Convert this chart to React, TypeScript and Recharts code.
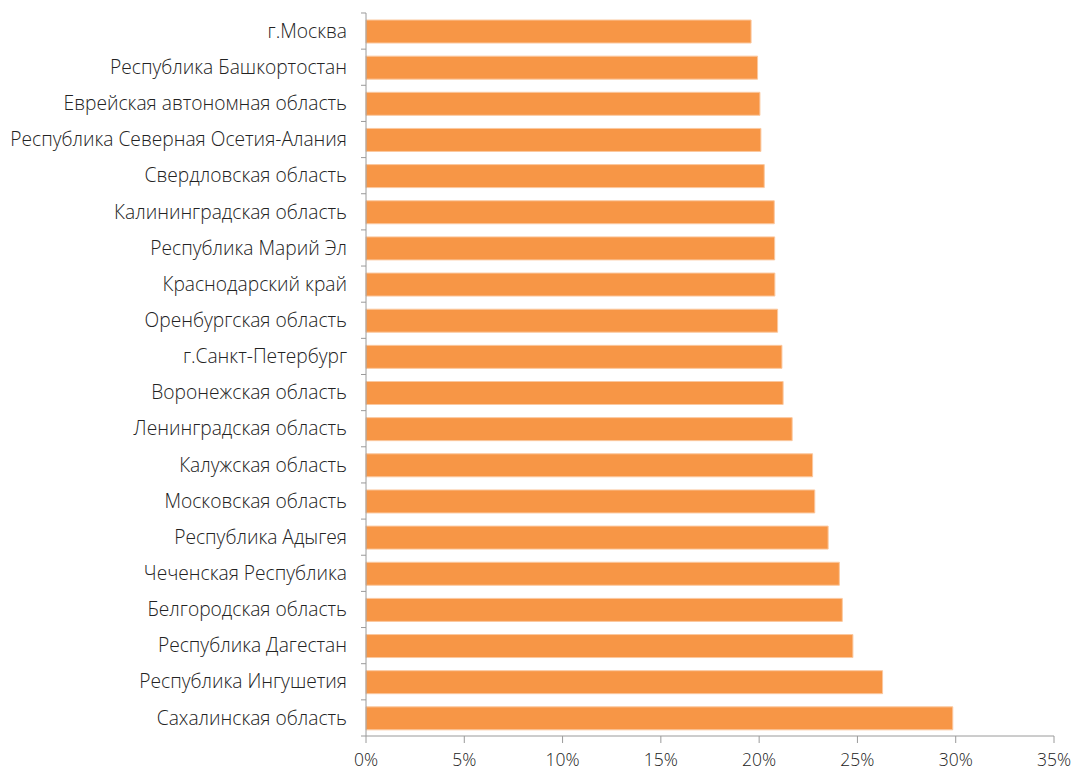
import React from "react";
import { BarChart, Bar, XAxis, YAxis } from "recharts";

const regions = [
  "г.Москва",
  "Республика Башкортостан",
  "Еврейская автономная область",
  "Республика Северная Осетия-Алания",
  "Свердловская область",
  "Калининградская область",
  "Республика Марий Эл",
  "Краснодарский край",
  "Оренбургская область",
  "г.Санкт-Петербург",
  "Воронежская область",
  "Ленинградская область",
  "Калужская область",
  "Московская область",
  "Республика Адыгея",
  "Чеченская Республика",
  "Белгородская область",
  "Республика Дагестан",
  "Республика Ингушетия",
  "Сахалинская область",
];

const shares = [
  19.59, 19.92, 20.04, 20.09, 20.26, 20.77, 20.79, 20.8, 20.94, 21.16,
  21.22, 21.68, 22.72, 22.83, 23.51, 24.08, 24.23, 24.77, 26.28, 29.85,
];

const xTicks = [0, 5, 10, 15, 20, 25, 30, 35];

const data = regions.map((name, i) => ({ name, value: shares[i] }));

const FONT = "'Open Sans', 'Noto Sans', sans-serif";
const AXIS = "#9a9a9a";
const TEXT = "#222";
const HALF_BAND = 18.08;

// category label plus the small tick marks at band boundaries
const RegionTick = (props: any) => {
  const { x, y, payload, index } = props;
  const axisX = x + 8;
  return (
    <g>
      <line x1={axisX - 5} x2={axisX} y1={y - HALF_BAND} y2={y - HALF_BAND} stroke={AXIS} />
      {index === regions.length - 1 && (
        <line x1={axisX - 5} x2={axisX} y1={y + HALF_BAND} y2={y + HALF_BAND} stroke={AXIS} />
      )}
      <text
        x={axisX - 19}
        y={y}
        dy="0.35em"
        textAnchor="end"
        fill={TEXT}
        fontSize={19.2}
        fontWeight={300}
        fontFamily={FONT}
      >
        {payload.value}
      </text>
    </g>
  );
};

export default function App() {
  return (
    <div style={{ position: "absolute", left: 0, top: 0, background: "#fff" }}>
      <BarChart
        width={1073}
        height={772}
        data={data}
        layout="vertical"
        margin={{ top: 13, right: 19, bottom: 6, left: 0 }}
        barSize={23}
      >
        <XAxis
          type="number"
          domain={[0, 35]}
          ticks={xTicks}
          tickFormatter={(v) => `${v}%`}
          height={30}
          tickSize={7}
          tickMargin={11}
          stroke={AXIS}
          tick={{ fill: TEXT, fontSize: 17.5, fontWeight: 300, fontFamily: FONT }}
          interval={0}
        />
        <YAxis
          type="category"
          dataKey="name"
          width={366}
          stroke={AXIS}
          tickLine={false}
          tickSize={8}
          tickMargin={0}
          interval={0}
          tick={<RegionTick />}
        />
        <Bar
          dataKey="value"
          fill="#F79646"
          stroke="#fbc89f"
          strokeWidth={1}
          isAnimationActive={false}
        />
      </BarChart>
    </div>
  );
}
